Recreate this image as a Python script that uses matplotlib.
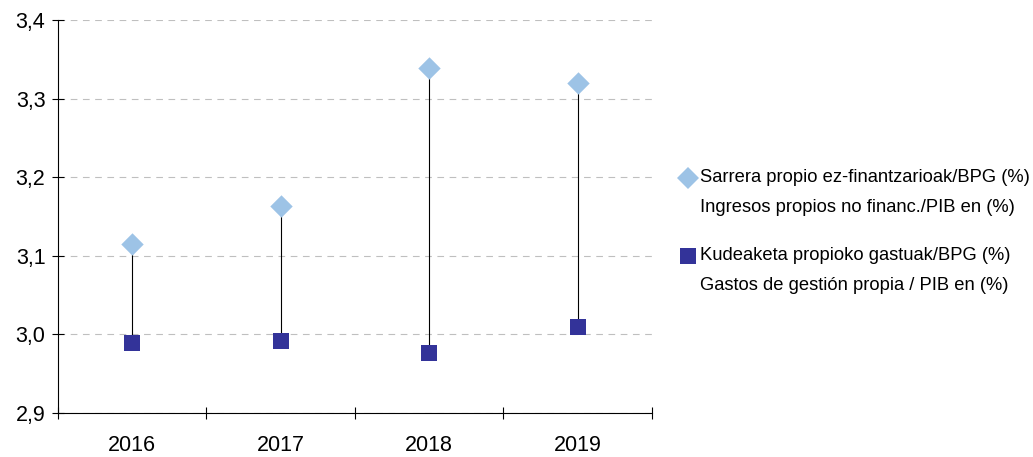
import matplotlib
matplotlib.use('Agg')
import matplotlib.pyplot as plt
from matplotlib.lines import Line2D
import numpy as np

plt.rcParams['font.family'] = ['Liberation Sans', 'DejaVu Sans']

years = ['2016', '2017', '2018', '2019']
ingresos = [3.115, 3.163, 3.339, 3.320]
gastos = [2.989, 2.992, 2.976, 3.009]
label_ingresos = ['Sarrera propio ez-finantzarioak/BPG (%)', 'Ingresos propios no financ./PIB en (%)']
label_gastos = ['Kudeaketa propioko gastuak/BPG (%)', 'Gastos de gestión propia / PIB en (%)']
yticks = [2.9, 3.0, 3.1, 3.2, 3.3, 3.4]

c_light = '#9DC3E6'
c_dark = '#333399'

fig = plt.figure(figsize=(10.33, 4.57), dpi=100)
ax = fig.add_axes([0.0561, 0.0963, 0.5750, 0.8600])

x = np.arange(len(years))
ax.vlines(x, gastos, ingresos, color='black', linewidth=0.8, zorder=2)
ax.scatter(x, ingresos, marker='D', s=130, color=c_light, zorder=3, linewidths=0)
ax.scatter(x, gastos, marker='s', s=130, color=c_dark, zorder=3, linewidths=0)

ax.set_xlim(-0.5, len(years) - 0.5)
ax.set_ylim(2.9, 3.4)
ax.set_yticks(yticks)
ax.set_yticklabels([f'{v:.1f}'.replace('.', ',') for v in yticks], fontsize=15.5)
ax.set_xticks(x)
ax.set_xticklabels(years, fontsize=15.5)
ax.set_xticks(np.arange(len(years) + 1) - 0.5, minor=True)
ax.tick_params(axis='x', which='major', length=0, pad=16)
ax.tick_params(axis='x', which='minor', length=8, direction='inout', width=0.8)
ax.tick_params(axis='y', length=8, direction='inout', width=0.8, pad=5)
ax.grid(axis='y', color='#BFBFBF', linestyle=(0, (6, 5)), linewidth=0.8)
ax.set_axisbelow(True)
for s in ['top', 'right']:
    ax.spines[s].set_visible(False)
for s in ['left', 'bottom']:
    ax.spines[s].set_linewidth(0.8)

# legend drawn by hand so the marker sits on the first line of each entry
fs = 13.2
mx, tx = 688 / 1033, 700 / 1033
entries = [(label_ingresos, 'D', c_light, 178), (label_gastos, 's', c_dark, 256)]
for labels, m, c, ypx in entries:
    y1 = 1 - ypx / 457
    y2 = 1 - (ypx + 29) / 457
    fig.add_artist(Line2D([mx], [y1], marker=m, markersize=11,
                          color=c, linestyle='none', markeredgewidth=0,
                          transform=fig.transFigure))
    fig.text(tx, y1, labels[0], fontsize=fs, va='center', ha='left')
    fig.text(tx, y2, labels[1], fontsize=fs, va='center', ha='left')

fig.savefig('out.png', dpi=100)
